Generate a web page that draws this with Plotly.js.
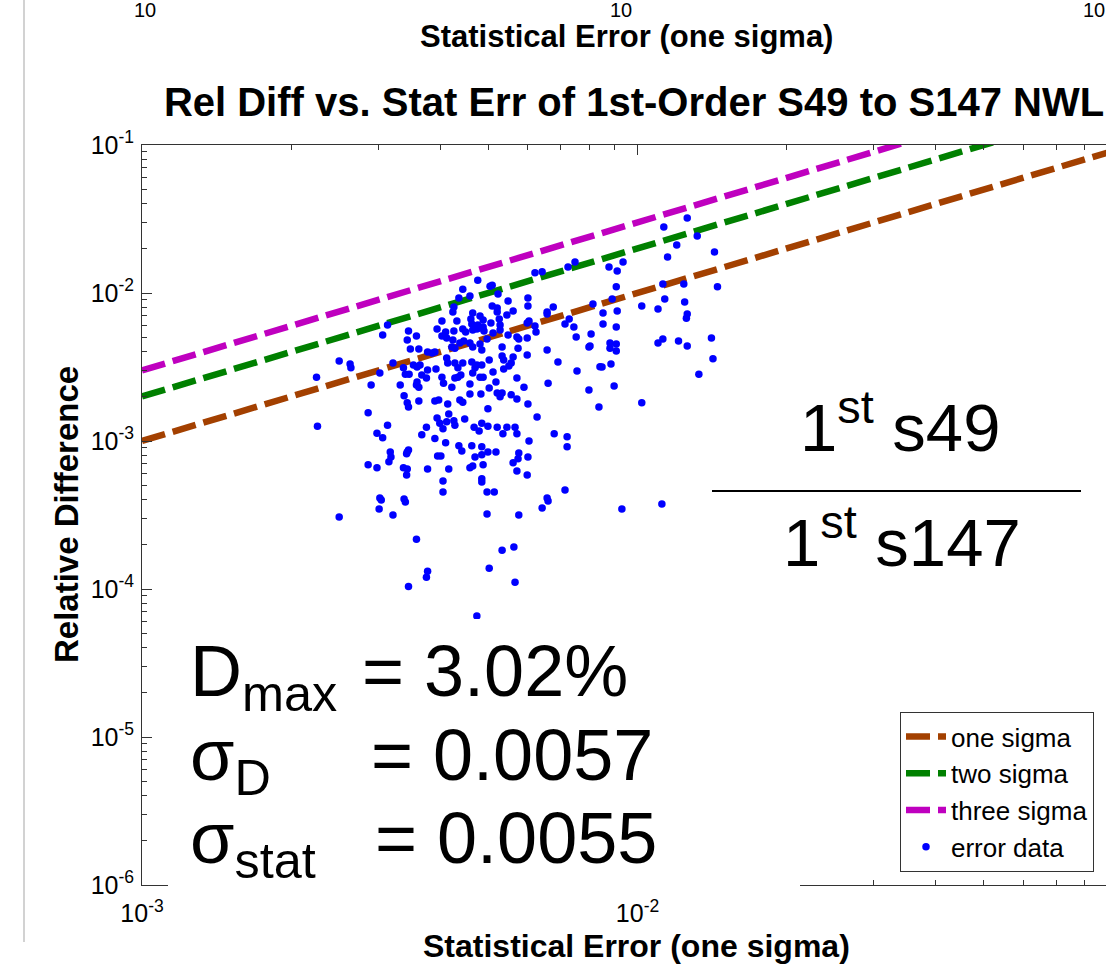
<!DOCTYPE html>
<html><head><meta charset="utf-8">
<script src="https://cdn.plot.ly/plotly-3.0.1.min.js"></script>
<style>html,body{margin:0;padding:0;background:#fff}</style>
</head><body><div id="chart" style="width:1106px;height:965px"></div>
<script>
// ---- data ----
const statErr = [
0.00748,0.00724,0.00642,0.00621,0.00476,0.00504,0.00509,0.00444,0.00459,0.00436,
0.00523,0.00548,0.00601,0.00426,0.00424,0.00509,0.00521,0.00521,0.00561,0.00601,
0.00676,0.00657,0.00657,0.00813,0.00465,0.00481,0.00545,0.00403,0.00432,0.00461,
0.00488,0.00526,0.00728,0.00714,0.00744,0.00463,0.00476,0.00488,0.00506,0.00528,
0.00599,0.00604,0.00621,0.00313,0.00394,0.0041,0.00426,0.00444,0.0045,0.00465,
0.00474,0.00481,0.0049,0.00345,0.00306,0.00511,0.00528,0.00624,0.00548,0.00571,
0.00576,0.00599,0.00806,0.00752,0.00358,0.00343,0.00403,0.00412,0.00424,0.00438,
0.00446,0.00459,0.00497,0.00422,0.00428,0.00465,0.00481,0.00533,0.00574,0.00657,
0.00348,0.00362,0.00377,0.00385,0.0039,0.00485,0.00798,0.00599,0.00533,0.00561,
0.00537,0.0025,0.00263,0.00264,0.00321,0.00353,0.00359,0.00364,0.00412,0.00414,
0.00428,0.00444,0.00463,0.00474,0.00485,0.00502,0.0055,0.00556,0.00691,0.00337,
0.00434,0.0047,0.00537,0.0084,0.00755,0.00302,0.0034,0.00346,0.00367,0.00377,
0.00392,0.0044,0.00465,0.00511,0.00225,0.00375,0.00403,0.00434,0.00481,0.00488,
0.00571,0.00428,0.00518,0.00359,0.00406,0.0066,0.0029,0.00332,0.00358,0.00362,
0.00422,0.00459,0.0059,0.00502,0.00798,0.00521,0.00533,0.00459,0.00483,0.00556,
0.00338,0.00528,0.00571,0.00362,0.0039,0.00397,0.00438,0.00444,0.00343,0.00414,
0.00601,0.00345,0.00836,0.00499,0.00416,0.00286,0.00627,0.00394,0.00448,0.00412,
0.00426,0.00485,0.00399,0.00313,0.00226,0.00428,0.00375,0.00468,0.00499,0.00521,
0.00545,0.00566,0.00405,0.00479,0.00298,0.00367,0.00535,0.00571,0.00679,0.00306,
0.0039,0.00721,0.00604,0.0041,0.00436,0.00463,0.00485,0.00721,0.00442,0.00317,
0.00343,0.00345,0.00499,0.00518,0.00576,0.00342,0.00485,0.00395,0.00401,0.0047,
0.00318,0.00601,0.00574,0.00315,0.00561,0.00286,0.00488,0.00465,0.00298,0.00459,
0.00337,0.00343,0.00377,0.00416,0.00571,0.00342,0.00599,0.00485,0.00405,0.00485,
0.00714,0.00405,0.00497,0.00514,0.00657,0.00302,0.00338,0.00304,0.0034,0.00301,
0.00321,0.0025,0.0066,0.00642,0.00497,0.00576,0.00358,0.00533,0.00563,0.00502,
0.00377,0.00375,0.00345,0.00566,0.00474,0.0126,0.0113,0.0132,0.012,0.0143,
0.0115,0.00935,0.00876,0.0091,0.00906,0.01125,0.0124,0.0145,0.00889,0.01135,
0.01245,0.0102,0.011,0.0091,0.00852,0.0126,0.01255,0.00852,0.00906,0.0141,
0.00906,0.0088,0.01125,0.011,0.0121,0.0126,0.00802,0.0088,0.00906,0.0142,
0.00884,0.00848,0.0133,0.00897,0.0102,0.0093,0.0112
];
const relDiff = [
0.0162,0.0150,0.0139,0.0137,0.0122,0.0111,0.0113,0.0106,0.00954,0.00926,
0.00984,0.00883,0.00926,0.00804,0.00744,0.00817,0.00792,0.00744,0.00756,0.00817,
0.00804,0.00744,0.00721,0.00843,0.00733,0.00699,0.0071,0.00647,0.00647,0.00667,
0.00657,0.00667,0.00667,0.00618,0.00589,0.00618,0.00608,0.00589,0.00627,0.00608,
0.00627,0.00647,0.00598,0.00608,0.00571,0.00545,0.00553,0.00571,0.00545,0.00562,
0.00571,0.0058,0.00553,0.00553,0.0052,0.00537,0.00562,0.00545,0.0052,0.00504,
0.00489,0.00496,0.00528,0.00504,0.00512,0.00481,0.00512,0.00496,0.00481,0.00459,
0.00473,0.00459,0.00489,0.00431,0.00424,0.00431,0.00452,0.00431,0.00424,0.00412,
0.00419,0.00419,0.00399,0.00393,0.00399,0.00412,0.00431,0.00381,0.00375,0.00369,
0.00353,0.00347,0.00331,0.00312,0.00337,0.00326,0.00316,0.00326,0.00364,0.00337,
0.00337,0.00337,0.00342,0.00326,0.00326,0.00353,0.00321,0.00337,0.00342,0.00312,
0.00312,0.00312,0.00307,0.00317,0.00297,0.00288,0.00283,0.00283,0.00279,0.00302,
0.00307,0.00279,0.00288,0.00293,0.0027,0.00266,0.0027,0.0027,0.0027,0.0027,
0.00266,0.00266,0.0025,0.0025,0.00246,0.00246,0.00239,0.00239,0.00239,0.00231,
0.00231,0.00243,0.00231,0.00228,0.00221,0.00211,0.00211,0.00208,0.00208,0.00205,
0.00202,0.00199,0.00192,0.00186,0.00186,0.00189,0.00189,0.00183,0.00181,0.00178,
0.00178,0.0017,0.0017,0.00165,0.00152,0.00155,0.00145,0.00143,0.00141,0.00135,
0.00137,0.00132,0.00132,0.00128,0.00126,0.00128,0.00124,0.00124,0.00126,0.00124,
0.00124,0.00124,0.00121,0.00117,0.00113,0.0011,0.00112,0.00112,0.00112,0.00105,
0.00104,0.00107,0.001,0.000972,0.000927,0.000927,0.000913,0.000913,0.000857,0.000844,
0.000844,0.000871,0.000844,0.000844,0.000831,0.000819,0.000806,0.000793,0.000793,0.000781,
0.000781,0.000781,0.000758,0.000723,0.000712,0.00069,0.00069,0.000679,0.000659,0.000659,
0.000659,0.000648,0.000648,0.000648,0.000628,0.00059,0.00059,0.000555,0.000537,0.000529,
0.000467,0.000453,0.000453,0.000453,0.000412,0.000412,0.000405,0.000399,0.000387,0.000347,
0.000316,0.000306,0.000393,0.000353,0.000321,0.000316,0.000217,0.000183,0.000192,0.000138,
0.000132,0.00012,0.000104,0.000111,0.0000656,0.0321,0.0279,0.0243,0.0211,0.0189,
0.0175,0.0162,0.015,0.0141,0.011,0.0115,0.0115,0.011,0.00911,0.00911,
0.00869,0.00817,0.0078,0.00756,0.00733,0.00721,0.00676,0.00618,0.00589,0.00496,
0.00452,0.00459,0.00489,0.00459,0.00473,0.00438,0.00438,0.00424,0.00406,0.00359,
0.00331,0.00316,0.00283,0.00235,0.00181,0.000347,0.000375
];
const sigmaLineX  = [0.001, 0.1];
const oneSigmaY   = [0.001, 0.1];
const twoSigmaY   = [0.002, 0.2];
const threeSigmaY = [0.003, 0.3];
const seriesNames = ['one sigma', 'two sigma', 'three sigma', 'error data'];
const xMajorTicks  = [0.001, 0.01];
const xMajorLabels = ['10<sup>-3</sup>', '10<sup>-2</sup>'];
const xMinorTicks  = [0.002,0.003,0.004,0.005,0.006,0.007,0.008,0.009,0.02,0.03,0.04,0.05,0.06,0.07,0.08];
const yMajorTicks  = [1e-6, 1e-5, 1e-4, 1e-3, 1e-2, 1e-1];
const yMajorLabels = ['10<sup>-6</sup>','10<sup>-5</sup>','10<sup>-4</sup>','10<sup>-3</sup>','10<sup>-2</sup>','10<sup>-1</sup>'];
const yMinorTicks  = [];
[1e-6,1e-5,1e-4,1e-3,1e-2].forEach(d => [2,3,4,5,6,7,8,9].forEach(m => yMinorTicks.push(+(d*m).toPrecision(3))));
const statsLabels = ['D<sub>max</sub>', 'σ<sub>D</sub>', 'σ<sub>stat</sub>'];
const statsValues = ['= 3.02%', '= 0.0057', '= 0.0055'];
const ratioTop = '1<sup>st</sup> s49';
const ratioBottom = '1<sup>st</sup> s147';
const xTitle = 'Statistical Error (one sigma)';
const yTitle = 'Relative Difference';

// ---- geometry helpers (layout only) ----
const W = 1106, H = 965, ML = 142, MT = 145, MB = 80;
const PW = W - ML, PH = H - MT - MB;
const px = x => (x - ML) / PW;
const py = y => (H - MB - y) / PH;
const FONT = 'Liberation Sans, Arial, sans-serif';
const AX = '#333333';

const lineStyle = c => ({color: c, width: 6.5, dash: '24px,8px'});
const traces = [
  {x: sigmaLineX, y: oneSigmaY,   mode: 'lines', name: seriesNames[0], line: lineStyle('#A34000')},
  {x: sigmaLineX, y: twoSigmaY,   mode: 'lines', name: seriesNames[1], line: lineStyle('#008000')},
  {x: sigmaLineX, y: threeSigmaY, mode: 'lines', name: seriesNames[2], line: lineStyle('#BF00BF')},
  {x: statErr, y: relDiff, mode: 'markers', name: seriesNames[3],
   marker: {color: '#0000FF', size: 7.5, symbol: 'circle'}}
];

const ann = [];
const rowTops = [629, 713, 796];
const valueLefts = [360, 369, 373];
statsLabels.forEach((t, i) => {
  ann.push({text: t, x: px(188), y: py(rowTops[i]), xanchor: 'left', yanchor: 'top'});
  ann.push({text: statsValues[i], x: px(valueLefts[i]), y: py(rowTops[i]), xanchor: 'left', yanchor: 'top'});
});
ann.forEach(a => { a.font = {family: FONT, size: 72, color: '#000'}; });
ann.push({text: ratioTop, x: px(900), y: py(467), xanchor: 'center', yanchor: 'bottom',
          font: {family: FONT, size: 67, color: '#000'}});
ann.push({text: ratioBottom, x: px(902), y: py(582), xanchor: 'center', yanchor: 'bottom',
          font: {family: FONT, size: 67, color: '#000'}});
// axis titles placed precisely
ann.push({text: xTitle, x: px(636), y: py(946), xanchor: 'center', yanchor: 'middle',
          font: {family: FONT, size: 32, weight: 700, color: '#000'}});
ann.push({text: yTitle, x: px(66), y: py(515), xanchor: 'center', yanchor: 'middle', textangle: -90,
          font: {family: FONT, size: 33, weight: 700, color: '#000'}});
// remnants of the chart above (cropped in the reference)
ann.push({text: 'Statistical Error (one sigma)', x: px(626), y: py(36), xanchor: 'center', yanchor: 'middle',
          font: {family: FONT, size: 31, weight: 700, color: '#000'}});
[145, 621, 1094].forEach(xp => ann.push({text: '10', x: px(xp), y: py(10), xanchor: 'center', yanchor: 'middle',
          font: {family: FONT, size: 20, color: '#000'}}));
ann.forEach(a => { a.xref = 'paper'; a.yref = 'paper'; a.showarrow = false; });

const layout = {
  width: W, height: H,
  margin: {l: ML, r: 0, t: MT, b: MB, pad: 0},
  paper_bgcolor: '#fff', plot_bgcolor: '#fff',
  showlegend: true,
  title: {text: 'Rel Diff vs. Stat Err of 1st-Order S49 to S147 NWL',
          font: {family: FONT, size: 40, weight: 700, color: '#000'},
          xref: 'container', yref: 'container', x: 634 / W, xanchor: 'center', y: 1 - 102 / H, yanchor: 'middle'},
  xaxis: {type: 'log', range: [-3, -3 + PW / 495.5], showgrid: false, zeroline: false,
          showline: true, linecolor: AX, linewidth: 1, mirror: 'allticks',
          ticks: 'inside', ticklen: 10, tickwidth: 1, tickcolor: AX,
          tickmode: 'array', tickvals: xMajorTicks, ticktext: xMajorLabels,
          tickfont: {family: FONT, size: 25, color: '#000'}, ticklabelstandoff: 6,
          minor: {tickmode: 'array', tickvals: xMinorTicks, ticks: 'inside', ticklen: 5, tickcolor: AX, showgrid: false},
          fixedrange: true},
  yaxis: {type: 'log', range: [-6, -1], showgrid: false, zeroline: false,
          showline: true, linecolor: AX, linewidth: 1, mirror: false,
          ticks: 'inside', ticklen: 10, tickwidth: 1, tickcolor: AX,
          tickmode: 'array', tickvals: yMajorTicks, ticktext: yMajorLabels,
          tickfont: {family: FONT, size: 25, color: '#000'}, ticklabelstandoff: 2,
          minor: {tickmode: 'array', tickvals: yMinorTicks, ticks: 'inside', ticklen: 5, tickcolor: AX, showgrid: false},
          fixedrange: true},
  legend: {x: px(900), y: py(712), xanchor: 'left', yanchor: 'top', xref: 'paper', yref: 'paper',
           bgcolor: '#fff', bordercolor: AX, borderwidth: 1, itemwidth: 40,
           font: {family: FONT, size: 26, color: '#000'}, tracegroupgap: 0},
  shapes: [
    {type: 'rect', xref: 'paper', yref: 'paper', x0: px(168), x1: px(800), y0: py(889), y1: py(619),
     fillcolor: '#fff', line: {width: 0}, layer: 'above'},
    {type: 'line', xref: 'paper', yref: 'paper', x0: px(712), x1: px(1081), y0: py(491), y1: py(491),
     line: {color: '#000', width: 2}, layer: 'above'},
    {type: 'line', xref: 'paper', yref: 'paper', x0: px(24), x1: px(24), y0: py(942), y1: py(0),
     line: {color: '#d2d2d2', width: 2}, layer: 'above'}
  ],
  annotations: ann
};

Plotly.newPlot('chart', traces, layout, {displayModeBar: false, staticPlot: true});
</script>
</body></html>
